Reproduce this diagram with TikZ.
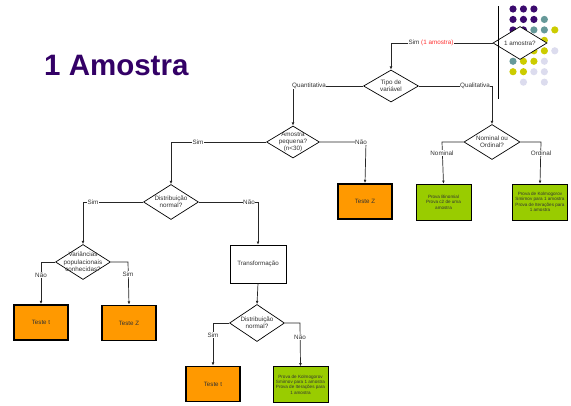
\documentclass[tikz,border=0pt]{standalone}
\usepackage{fontspec}
\setmainfont{Liberation Sans}
\usetikzlibrary{shapes.geometric,arrows.meta}
\definecolor{ttl}{HTML}{330066}
\definecolor{dP}{HTML}{3B0A6E}
\definecolor{dT}{HTML}{669999}
\definecolor{dY}{HTML}{CCCC00}
\definecolor{dL}{HTML}{DCDCEE}
\definecolor{orng}{HTML}{FF9900}
\definecolor{grn}{HTML}{99CC00}
\definecolor{txt}{HTML}{333333}
\definecolor{lred}{HTML}{FF3333}
\begin{document}
\begin{tikzpicture}[x=1pt,y=-1pt,
  dia/.style={diamond,draw=black,fill=white,line width=0.7pt,minimum width=55pt,minimum height=34pt,inner sep=0pt},
  dtext/.style={font=\fontsize{6.3}{7.4}\selectfont,text=txt,align=center,inner sep=0pt},
  lab/.style={font=\fontsize{6.3}{7.4}\selectfont,text=txt,fill=white,inner sep=0.6pt},
  conn/.style={draw=black!85,line width=0.7pt,-{Latex[length=3.2pt,width=2.8pt]}},
  obox/.style={rectangle,draw=black,line width=1.8pt,fill=orng,minimum width=54pt,minimum height=35pt,font=\fontsize{6.2}{7}\selectfont,text=txt},
  gbox/.style={rectangle,draw=black,line width=0.5pt,fill=grn,minimum width=55pt,minimum height=36pt,align=center,font=\fontsize{4.6}{5.4}\selectfont,text=txt,inner sep=1pt},
  wbox/.style={rectangle,draw=black,line width=0.6pt,fill=white,minimum width=56pt,minimum height=38pt,font=\fontsize{6.2}{7}\selectfont,text=txt}
]
\useasboundingbox (0,0) rectangle (571,405);

% title
\node[anchor=base west,font=\fontsize{29.5}{30}\selectfont\bfseries,text=ttl,inner sep=0pt] (title) at (44,75) {1 Amostra};

% decorative dots
\foreach \c/\r/\col in {0/0/dP,1/0/dP,2/0/dP,
  0/1/dP,1/1/dP,2/1/dP,3/1/dT,
  0/2/dP,1/2/dP,2/2/dT,3/2/dT,4/2/dY,
  0/3/dP,1/3/dT,2/3/dT,3/3/dY,
  0/4/dT,1/4/dT,2/4/dY,3/4/dY,4/4/dL,
  0/5/dT,1/5/dY,2/5/dY,3/5/dL,
  0/6/dY,1/6/dY,2/6/dL,3/6/dL,
  1/7/dL,3/7/dL}
  \fill[\col] ({513+10.45*\c},{9+10.45*\r}) circle (3.6);

% diamonds
\node[dia,minimum width=54pt,minimum height=33pt] (d1) at (520,43) {};
\node[dtext] (d1t) at (d1) {1 amostra?};
\draw[black,line width=0.7pt] (498,6) -- (498,99);

\node[dia,minimum height=32pt] (d2) at (391,86) {};
\node[dtext] (d2t) at (d2) {Tipo de\\variável};

\node[dia,minimum width=53pt,minimum height=32pt] (d3) at (293,142) {};
\node[dtext] (d3t) at (d3) {Amostra\\pequena?\\(n<30)};

\node[dia,minimum width=56pt,minimum height=35pt] (d4) at (492,142) {};
\node[dtext] (d4t) at (d4) {Nominal ou\\Ordinal?};

\node[dia,minimum height=35pt] (d5) at (171,202) {};
\node[dtext] (d5t) at (d5) {Distribuição\\normal?};

\node[dia,minimum height=35pt] (d6) at (83,262) {};
\node[dtext] (d6t) at (d6) {Variâncias\\populacionais\\conhecidas?};

\node[dia,minimum height=37pt] (d7) at (257,323) {};
\node[dtext] (d7t) at (d7) {Distribuição\\normal?};

% boxes
\node[wbox] (tr) at (258,264) {Transformação};
\node[obox] (tz1) at (365,201.5) {Teste Z};
\node[gbox] (g1) at (443.5,202) {Prova Binomial\\Prova c2 de uma\\amostra};
\node[gbox] (g2) at (540,202) {Prova de Kolmogorov\\Smirnov para 1 amostra\\Prova de Iterações para\\1 amostra};
\node[obox] (tt1) at (41,322.5) {Teste t};
\node[obox] (tz2) at (129,323) {Teste Z};
\node[obox] (tt2) at (213,384) {Teste t};
\node[gbox] (g3) at (300.5,384.5) {Prova de Kolmogorov\\Smirnov para 1 amostra\\Prova de Iterações para\\1 amostra};

% corners
\coordinate (c1) at (391,43);
\coordinate (c2) at (293,86);
\coordinate (c3) at (492,86);
\coordinate (c4) at (366,142);
\coordinate (c5) at (171,142);
\coordinate (c6) at (442,142);
\coordinate (c7) at (541,142);
\coordinate (c8) at (258,202);
\coordinate (c9) at (83,202);
\coordinate (c10) at (41,262);
\coordinate (c11) at (128,262);
\coordinate (c12) at (213,323);
\coordinate (c13) at (300,323);

% connectors
\draw[conn] (d1.west) -- (c1) -- (d2.north);
\draw[conn] (d2.west) -- (c2) -- (d3.north);
\draw[conn] (d2.east) -- (c3) -- (d4.north);
\draw[conn] (d3.east) -- (c4) -- (tz1.north);
\draw[conn] (d3.west) -- (c5) -- (d5.north);
\draw[conn] (d4.west) -- (c6) -- (g1.north);
\draw[conn] (d4.east) -- (c7) -- (g2.north);
\draw[conn] (d5.east) -- (c8) -- (tr.north);
\draw[conn] (d5.west) -- (c9) -- (d6.north);
\draw[conn] (d6.west) -- (c10) -- (tt1.north);
\draw[conn] (d6.east) -- (c11) -- (tz2.north);
\draw[conn] (tr.south) -- (d7.north);
\draw[conn] (d7.west) -- (c12) -- (tt2.north);
\draw[conn] (d7.east) -- (c13) -- (g3.north);

% labels
\node[lab] (l1) at (431,43) {Sim \textcolor{lred}{(1 amostra)}};
\node[lab] (l2) at (309,86) {Quantitativa};
\node[lab] (l3) at (475,86) {Qualitativa};
\node[lab] (l4) at (361,142) {Não};
\node[lab] (l5) at (198,142) {Sim};
\node[lab] (l6) at (442,153) {Nominal};
\node[lab] (l7) at (541,153) {Ordinal};
\node[lab] (l8) at (249,202) {Não};
\node[lab] (l9) at (93,202) {Sim};
\node[lab] (l10) at (41,275) {Não};
\node[lab] (l11) at (128,274) {Sim};
\node[lab] (l12) at (213,335) {Sim};
\node[lab] (l13) at (300,337) {Não};
\end{tikzpicture}
\end{document}
